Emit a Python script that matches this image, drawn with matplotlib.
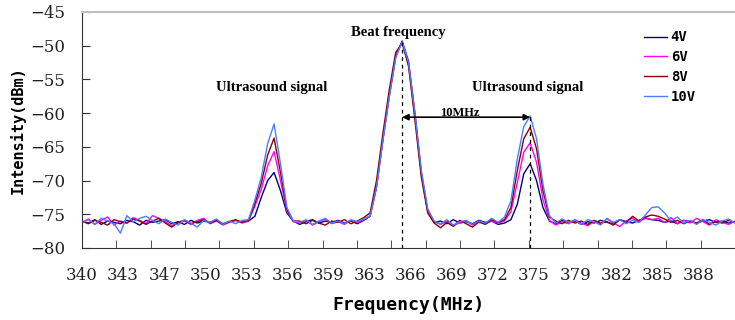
"""
Beat frequency / ultrasound signal spectrum for several drive voltages
"""

import matplotlib.pyplot as plt
import numpy as np

# frequency grid (MHz), 0.5 MHz step
freq = np.arange(340.0, 391.01, 0.5)

# intensity (dBm)
v10 = [
    -76.3, -75.8, -76.5, -75.6, -76.0, -76.4, -77.8, -75.2, -76.1, -75.6,
    -75.3, -75.9, -76.4, -75.7, -76.2, -76.6, -75.8, -76.3, -76.9, -75.9,
    -76.2, -75.7, -76.5, -76.0, -76.4, -75.9, -75.8, -72.9, -69.5, -64.5,
    -61.6, -67.5, -74.0, -76.0, -76.2, -75.8, -76.5, -76.0, -75.6, -76.3,
    -76.0, -76.4, -75.8, -76.1, -75.7, -75.3, -71.0, -64.0, -57.5, -51.8,
    -49.4, -52.5, -60.0, -68.5, -74.2, -76.0, -76.4, -75.8, -76.6, -76.1,
    -75.9, -76.5, -76.0, -76.3, -75.6, -76.2, -75.4, -73.0, -66.8, -62.0,
    -60.4, -63.8, -70.5, -75.2, -76.3, -75.7, -76.2, -75.9, -76.5, -75.8,
    -76.1, -76.6, -75.6, -76.2, -75.8, -76.4, -75.9, -76.2, -75.1, -74.0,
    -73.9, -74.8, -76.0, -75.4, -76.3, -75.9, -76.5, -75.8, -76.2, -76.6,
    -76.0, -75.7, -76.3,
]
v8 = [
    -76.0, -76.4, -75.9, -76.2, -76.6, -75.8, -76.1, -76.3, -75.7, -76.0,
    -76.5, -76.0, -75.6, -76.3, -76.9, -76.2, -75.9, -76.4, -76.1, -75.8,
    -76.3, -75.9, -76.5, -76.1, -75.8, -76.2, -75.9, -73.4, -70.4, -66.2,
    -63.7, -68.8, -74.3, -76.0, -76.0, -76.4, -75.9, -76.3, -76.6, -76.0,
    -76.2, -75.8, -76.4, -76.0, -75.5, -74.8, -70.0, -63.0, -56.5, -51.0,
    -49.6, -53.0, -61.0, -69.5, -74.8, -76.3, -77.0, -76.2, -76.8, -75.9,
    -76.4, -76.9, -76.1, -76.5, -75.8, -76.2, -75.8, -74.0, -68.5, -63.8,
    -62.1, -65.3, -71.5, -75.4, -76.0, -76.4, -75.9, -76.3, -76.0, -76.5,
    -75.9, -76.3, -76.1, -76.6, -75.8, -76.2, -75.3, -76.0, -75.4, -75.1,
    -75.3, -75.7, -76.2, -75.9, -76.4, -76.0, -76.3, -75.8, -76.5, -76.1,
    -76.3, -75.9, -76.2,
]
v6 = [
    -76.2, -75.7, -76.5, -75.9, -75.4, -76.6, -76.0, -76.3, -75.5, -75.9,
    -76.4, -75.2, -75.6, -76.1, -76.7, -76.3, -76.0, -76.5, -75.9, -75.6,
    -76.4, -76.0, -76.6, -76.2, -75.9, -76.3, -76.0, -73.8, -71.3, -67.8,
    -65.7, -70.0, -74.5, -76.1, -76.3, -75.9, -76.6, -76.1, -75.7, -76.4,
    -76.1, -76.5, -75.9, -76.2, -75.8, -75.2, -70.8, -63.8, -57.2, -51.5,
    -49.5, -52.8, -60.5, -69.0, -74.5, -76.1, -76.5, -76.0, -76.7, -76.2,
    -76.0, -76.6, -76.2, -76.4, -76.0, -76.3, -76.0, -74.6, -70.3, -65.8,
    -64.4, -67.3, -72.8, -75.9, -76.6, -76.1, -76.4, -75.8, -76.3, -76.7,
    -76.0, -76.5, -75.7, -76.3, -76.8, -76.0, -75.6, -76.2, -75.5, -75.8,
    -75.6, -76.2, -75.5, -76.4, -75.9, -76.3, -75.6, -76.1, -76.6, -75.8,
    -76.2, -76.5, -76.0,
]
v4 = [
    -76.1, -76.3, -75.8, -76.5, -76.0, -76.2, -76.4, -75.9, -76.1, -76.6,
    -75.9, -76.2, -76.0, -75.8, -76.4, -76.1, -76.5, -75.9, -76.3, -76.0,
    -76.2, -75.8, -76.4, -76.1, -75.9, -76.2, -76.0, -75.3, -72.5, -70.0,
    -68.8, -71.5, -74.8, -76.0, -76.5, -76.1, -75.8, -76.3, -76.0, -76.2,
    -75.9, -76.3, -76.0, -76.4, -75.9, -75.3, -71.0, -64.0, -57.5, -51.6,
    -49.3, -52.3, -60.0, -68.8, -74.5, -76.2, -76.0, -76.4, -75.8, -76.3,
    -76.1, -76.4, -75.9, -76.2, -76.0, -76.5, -76.3, -75.8, -73.5, -69.0,
    -67.5, -70.0, -74.0, -76.0, -76.4, -75.9, -76.2, -76.0, -76.5, -76.1,
    -76.3, -75.9, -76.2, -76.4, -75.8, -76.1, -76.3, -75.9, -75.6, -75.8,
    -75.9, -76.2, -76.0, -76.4, -75.9, -76.1, -76.3, -76.0, -75.8, -76.2,
    -76.0, -76.3, -76.1,
]

labels = ["4V", "6V", "8V", "10V"]
colors = ["#00007f", "#ff00ff", "#8b0000", "#4a7dff"]

tick_text = ["340", "343", "347", "350", "353", "356", "359", "363",
             "366", "369", "372", "375", "379", "382", "385", "388"]
tick_pos = 340 + 3.21 * np.arange(len(tick_text))

beat_f, beat_top = 365.0, -49.4
us_f, us_top = 375.0, -60.3

fig = plt.figure(figsize=(7.35, 3.2), dpi=100)
ax = fig.add_axes([0.1116, 0.225, 0.8884, 0.7375])

for y, lab, c in zip([v4, v6, v8, v10], labels, colors):
    ax.plot(freq, y, color=c, lw=1.0, label=lab)

ax.set_xlim(340, 391)
ax.set_ylim(-80, -45)

# dashed markers and the 10 MHz arrow
ax.vlines([beat_f], -80, beat_top, colors="k", linestyles=(0, (3, 3)), lw=0.9)
ax.vlines([us_f], -80, us_top, colors="k", linestyles=(0, (3, 3)), lw=0.9)
ax.annotate("", xy=(us_f, -60.6), xytext=(beat_f, -60.6),
            arrowprops=dict(arrowstyle="<|-|>", color="k", lw=1.2,
                            mutation_scale=9, shrinkA=0, shrinkB=0))
ax.text(369.5, -60.0, "10MHz", ha="center", va="center",
        family="Liberation Serif", weight="bold", fontsize=9)

txt = dict(ha="center", va="center", family="Liberation Serif",
           weight="bold", fontsize=10.5)
ax.text(354.8, -56.2, "Ultrasound signal", **txt)
ax.text(364.7, -48.1, "Beat frequency", **txt)
ax.text(374.8, -56.2, "Ultrasound signal", **txt)

# ticks: labels and marks are spaced differently, as in the original
ax.set_xticks(tick_pos)
ax.set_xticklabels(tick_text)
ax.set_xticks(340 + 51 / 19 * np.arange(20), minor=True)
ax.tick_params(axis="x", which="major", length=0, pad=14)
ax.tick_params(axis="x", which="minor", direction="in", length=6,
               color="#333333")
ax.set_yticks(np.arange(-80, -44, 5))
ax.tick_params(axis="y", direction="in", length=6, pad=12, color="#333333")
for t in ax.get_xticklabels() + ax.get_yticklabels():
    t.set_family("DejaVu Serif")
    t.set_fontsize(12)
    t.set_color("#222222")

ax.set_xlabel("Frequency(MHz)", family="DejaVu Sans Mono", weight="bold",
              fontsize=13, labelpad=8)
ax.set_ylabel("Intensity(dBm)", family="DejaVu Sans Mono", weight="bold",
              fontsize=11, labelpad=3)

ax.spines["right"].set_visible(False)
ax.spines["top"].set_color("#c0c0c0")
ax.spines["top"].set_linewidth(1.5)
ax.spines["left"].set_color("#333333")
ax.spines["bottom"].set_color("#333333")

leg = ax.legend(loc="upper left", bbox_to_anchor=(0.842, 0.975), frameon=False,
                handlelength=1.6, handletextpad=0.3, labelspacing=0.42,
                prop=dict(family="DejaVu Sans Mono", weight="bold", size=10))

fig.savefig("out.png", dpi=100)
